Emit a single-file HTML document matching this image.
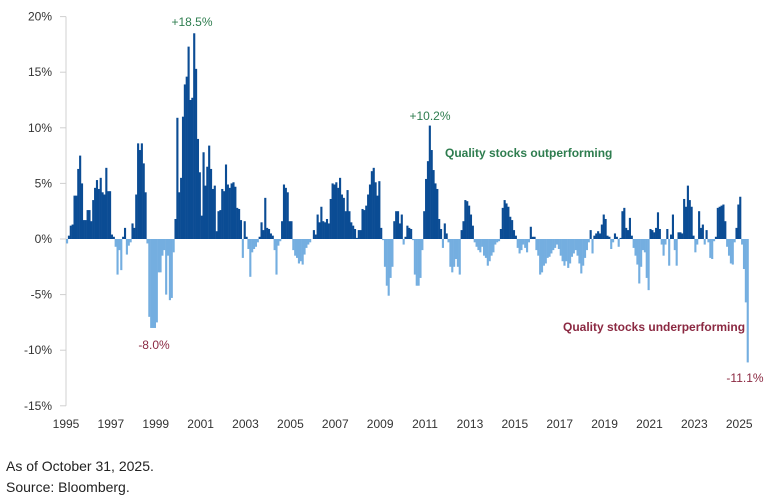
<!DOCTYPE html>
<html><head><meta charset="utf-8"><style>
body{margin:0;background:#fff;width:768px;height:496px;overflow:hidden;font-family:"Liberation Sans",sans-serif}
svg text{font-family:"Liberation Sans",sans-serif}
</style></head><body>
<svg id="chart" width="768" height="496" viewBox="0 0 768 496" xmlns="http://www.w3.org/2000/svg">
<g id="yaxis"></g>
<g id="xaxis"></g>
<g id="bars"></g>
<text x="192" y="26" font-size="12" fill="#2e7d4f" text-anchor="middle">+18.5%</text>
<text x="154" y="349" font-size="12" fill="#8b2942" text-anchor="middle">-8.0%</text>
<text x="430" y="120" font-size="12" fill="#2e7d4f" text-anchor="middle">+10.2%</text>
<text x="445" y="157" font-size="12" font-weight="bold" fill="#2e7d4f">Quality stocks outperforming</text>
<text x="563" y="331" font-size="12" font-weight="bold" fill="#8b2942">Quality stocks underperforming</text>
<text x="745" y="382" font-size="12" fill="#8b2942" text-anchor="middle">-11.1%</text>
<text x="6" y="471" font-size="14" fill="#222">As of October 31, 2025.</text>
<text x="6" y="492" font-size="14" fill="#222">Source: Bloomberg.</text>
</svg>
<script>
const values = [
-0.4,0.3,1.2,1.3,3.9,3.9,6.3,7.5,5.0,1.7,
1.7,2.6,2.6,1.6,3.5,4.6,5.3,4.5,5.5,4.2,
4.0,6.4,4.3,4.3,0.4,0.2,-0.7,-3.2,-1.0,-2.8,
0.2,1.0,-1.4,-0.6,-0.3,1.4,1.0,4.0,8.6,8.0,
8.6,6.8,4.2,-0.4,-7.0,-8.0,-8.0,-8.0,-7.5,-3.0,
-3.0,-1.5,-1.0,-5.0,-1.5,-5.5,-5.3,-1.2,1.8,10.9,
4.2,5.5,11.0,13.9,14.6,17.3,12.5,12.7,18.5,15.3,
9.0,6.0,2.1,7.8,4.8,6.5,8.4,6.3,4.5,4.8,
0.7,2.5,2.6,4.5,4.3,6.7,4.9,4.6,5.0,5.1,
4.7,2.8,2.7,1.7,-1.7,1.6,0.2,-0.9,-3.4,-1.2,
-0.9,-0.7,-0.3,0.2,1.5,0.8,3.7,1.0,0.9,0.5,
0.3,-1.0,-3.2,-0.6,-0.2,1.6,4.9,4.6,4.2,1.6,
1.6,-1.0,-1.5,-1.7,
-2.2,-2.0,-2.3,-1.4,-0.8,-0.5,-0.3,0.0,
0.8,0.4,2.2,1.5,
2.9,1.6,1.5,1.8,1.4,3.6,5.0,4.9,5.1,4.6,5.5,4.0,3.7,2.5,4.4,2.5,1.5,1.2,0.9,0.1,
0.8,0.8,2.7,2.6,3.0,4.0,4.9,6.1,6.4,5.1,3.9,5.2,1.0,
-0.1,-2.5,-4.2,-5.1,-3.5,-2.5,
1.6,2.5,2.5,1.4,2.2,-0.5,0.2,
1.2,1.0,0.9,-0.1,
-3.2,-4.2,-4.2,-3.5,-1.0,
2.5,5.4,7.0,10.2,8.0,6.2,5.0,4.5,1.8,0.9,
-0.8,1.4,0.5,-0.3,
-2.5,-3.0,-2.5,-1.8,-2.5,-3.2,
0.8,1.6,3.5,3.4,3.0,2.2,1.2,
-0.3,-0.7,-1.0,-1.2,-0.7,-1.5,-1.7,-2.4,-2.0,-1.5,-1.2,-0.5,-0.3,-0.2,
0.9,2.8,3.5,3.2,2.9,2.0,1.7,0.8,0.3,
-0.8,-1.3,-1.0,-0.5,-0.8,-1.2,-0.3,
1.1,0.2,0.2,
-1.0,-1.5,-3.2,-3.0,-2.4,-2.2,-1.7,-1.6,-1.3,-1.0,-0.8,-0.5,-0.9,-1.5,-2.0,-2.4,-2.0,-2.6,-2.2,-1.6,-1.3,-1.0,-1.5,-2.2,-3.1,-2.4,-1.7,-1.0,-0.3,
0.8,-1.3,0.3,0.5,0.7,0.5,1.3,2.2,1.8,0.3,0.2,
-0.9,-0.3,0.5,0.2,-0.7,0.1,
2.5,2.8,1.0,0.8,1.9,0.3,
-0.8,-1.5,-2.3,-4.0,-2.5,-1.0,-1.2,-3.5,-4.6,
0.9,0.8,0.6,1.0,2.4,0.9,
-0.5,-1.5,-0.5,0.9,-2.4,0.4,2.2,-1.0,-2.4,
0.6,0.6,0.5,3.6,2.9,4.8,3.5,2.9,0.3,
-1.2,-0.5,2.5,1.0,1.3,-0.5,0.8,-0.3,
-1.7,-1.8,-0.2,0.2,
2.8,2.9,3.0,3.1,1.6,
-0.7,-1.5,-2.2,-2.3,-0.3,
1.0,3.1,3.8,
-0.5,-2.7,-5.7,-11.1
];
const yTicks = [20,15,10,5,0,-5,-10,-15];
const yearLabels = [1995,1997,1999,2001,2003,2005,2007,2009,2011,2013,2015,2017,2019,2021,2023,2025];

const NS = "http://www.w3.org/2000/svg";
const step = 1.87, x0 = 66;
function yScale(v){ return 239 - v * 11.12; }
function xScale(i){ return x0 + i * step; }
function yearX(yr){ return x0 + (yr - 1995) * 12 * step; }

const ya = document.getElementById('yaxis');
const axLine = document.createElementNS(NS,'line');


axLine.setAttribute('x1',66);axLine.setAttribute('x2',66);
axLine.setAttribute('y1',yScale(20));axLine.setAttribute('y2',yScale(-15));
axLine.setAttribute('stroke','#d0d0d0');axLine.setAttribute('stroke-width','1');
ya.appendChild(axLine);
yTicks.forEach(t=>{
  const tk = document.createElementNS(NS,'line');
  
  
  tk.setAttribute('x1',60);tk.setAttribute('x2',66);
  tk.setAttribute('y1',yScale(t));tk.setAttribute('y2',yScale(t));
  tk.setAttribute('stroke','#d0d0d0');
  ya.appendChild(tk);
  const tx = document.createElementNS(NS,'text');
  
  
  tx.setAttribute('x',52);tx.setAttribute('y',yScale(t)+4);
  tx.setAttribute('text-anchor','end');tx.setAttribute('font-size','12');tx.setAttribute('fill','#333');
  tx.textContent = t + '%';
  ya.appendChild(tx);
});
const xa = document.getElementById('xaxis');
yearLabels.forEach(yr=>{
  const tx = document.createElementNS(NS,'text');
  
  
  tx.setAttribute('x',yearX(yr));tx.setAttribute('y',428);
  tx.setAttribute('text-anchor','middle');tx.setAttribute('font-size','12');tx.setAttribute('fill','#333');
  tx.textContent = yr;
  xa.appendChild(tx);
});
const bg = document.getElementById('bars');
values.forEach((v,i)=>{
  const r = document.createElementNS(NS,'rect');
  
  
  const y0 = yScale(0), y1 = yScale(v);
  r.setAttribute('x',xScale(i));
  r.setAttribute('width',step+0.25);
  r.setAttribute('y',Math.min(y0,y1));
  r.setAttribute('height',Math.abs(y1-y0));
  r.setAttribute('fill', v>=0 ? '#0b4c94' : '#74aee0');
  bg.appendChild(r);
});
</script>
</body></html>
